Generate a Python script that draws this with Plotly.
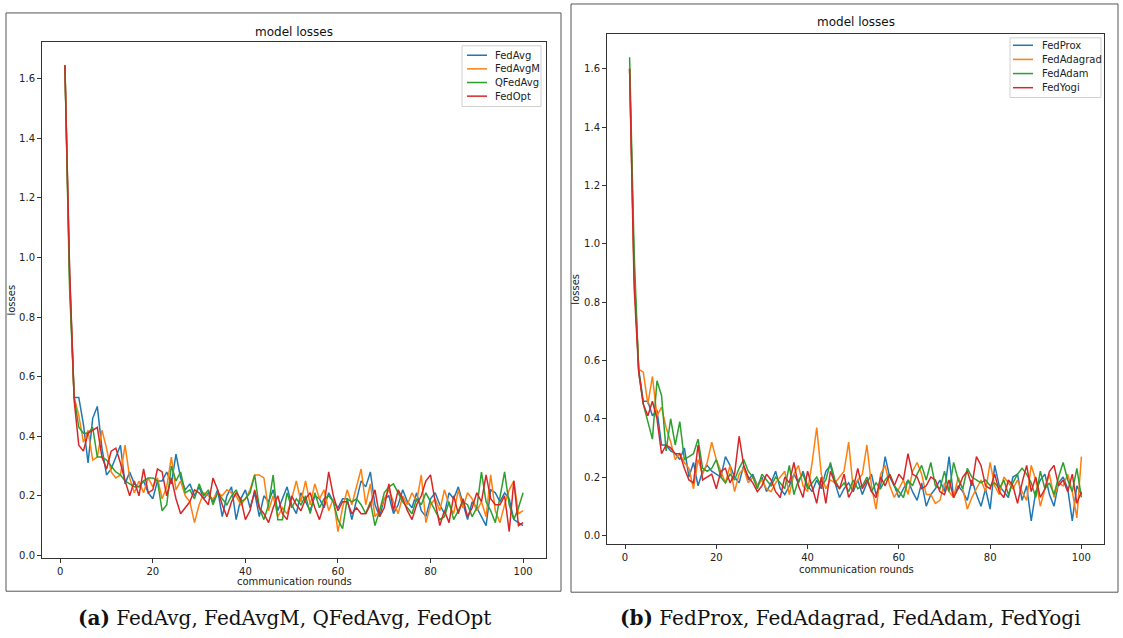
import plotly.graph_objects as go

W, H = 1123, 638

rounds = list(range(1, 101))

# ---- panel (a) ----
fedavg = [1.645, 0.95, 0.53, 0.53, 0.44, 0.31, 0.46, 0.50, 0.36, 0.27,
          0.29, 0.33, 0.37, 0.24, 0.28, 0.24, 0.23, 0.25, 0.21, 0.19,
          0.25, 0.25, 0.28, 0.24, 0.34, 0.26, 0.22, 0.24, 0.20, 0.23,
          0.19, 0.21, 0.18, 0.22, 0.13, 0.20, 0.23, 0.12, 0.19, 0.22,
          0.16, 0.21, 0.13, 0.20, 0.18, 0.22, 0.15, 0.19, 0.23, 0.17,
          0.14, 0.21, 0.18, 0.15, 0.20, 0.19, 0.16, 0.21, 0.18, 0.16,
          0.19, 0.19, 0.12, 0.18, 0.25, 0.23, 0.28, 0.17, 0.13, 0.19,
          0.20, 0.14, 0.17, 0.22, 0.18, 0.16, 0.21, 0.15, 0.13, 0.19,
          0.21, 0.17, 0.14, 0.21, 0.19, 0.23, 0.17, 0.12, 0.18, 0.16,
          0.13, 0.10, 0.22, 0.21, 0.18, 0.21, 0.19, 0.12, 0.11, 0.10]
fedavgm = [1.645, 0.93, 0.53, 0.47, 0.38, 0.42, 0.32, 0.33, 0.42, 0.36,
           0.28, 0.26, 0.27, 0.37, 0.26, 0.21, 0.25, 0.21, 0.26, 0.23,
           0.26, 0.19, 0.23, 0.33, 0.22, 0.25, 0.20, 0.18, 0.11, 0.17,
           0.21, 0.20, 0.19, 0.21, 0.20, 0.22, 0.21, 0.20, 0.17, 0.19,
           0.22, 0.27, 0.27, 0.26, 0.15, 0.20, 0.13, 0.16, 0.14, 0.19,
           0.25, 0.18, 0.25, 0.17, 0.24, 0.19, 0.22, 0.15, 0.19, 0.08,
           0.16, 0.22, 0.17, 0.23, 0.29, 0.17, 0.24, 0.13, 0.15, 0.19,
           0.22, 0.18, 0.14, 0.20, 0.17, 0.21, 0.18, 0.27, 0.11, 0.17,
           0.19, 0.15, 0.22, 0.17, 0.14, 0.22, 0.16, 0.21, 0.19, 0.15,
           0.18, 0.13, 0.27, 0.15, 0.11, 0.17, 0.22, 0.25, 0.14, 0.15]
qfedavg = [1.645, 0.90, 0.53, 0.43, 0.41, 0.41, 0.43, 0.33, 0.33, 0.32,
           0.30, 0.28, 0.27, 0.25, 0.24, 0.23, 0.23, 0.25, 0.26, 0.26,
           0.25, 0.15, 0.17, 0.30, 0.25, 0.28, 0.21, 0.22, 0.19, 0.24,
           0.20, 0.22, 0.17, 0.21, 0.19, 0.17, 0.20, 0.22, 0.18, 0.19,
           0.21, 0.27, 0.16, 0.12, 0.17, 0.27, 0.12, 0.12, 0.21, 0.16,
           0.19, 0.17, 0.20, 0.14, 0.21, 0.16, 0.19, 0.20, 0.18, 0.12,
           0.09, 0.19, 0.18, 0.19, 0.17, 0.14, 0.18, 0.10, 0.15, 0.21,
           0.23, 0.24, 0.21, 0.18, 0.16, 0.14, 0.19, 0.17, 0.21, 0.18,
           0.15, 0.12, 0.13, 0.18, 0.12, 0.15, 0.18, 0.17, 0.13, 0.16,
           0.28, 0.18, 0.15, 0.11, 0.20, 0.28, 0.17, 0.12, 0.16, 0.21]
fedopt = [1.645, 0.97, 0.52, 0.37, 0.35, 0.41, 0.42, 0.43, 0.33, 0.29,
          0.35, 0.36, 0.31, 0.25, 0.20, 0.25, 0.20, 0.29, 0.21, 0.22,
          0.29, 0.28, 0.20, 0.26, 0.19, 0.14, 0.16, 0.18, 0.22, 0.21,
          0.19, 0.17, 0.26, 0.22, 0.17, 0.13, 0.18, 0.21, 0.19, 0.12,
          0.15, 0.22, 0.16, 0.14, 0.11, 0.16, 0.20, 0.14, 0.12, 0.20,
          0.17, 0.15, 0.19, 0.21, 0.16, 0.12, 0.17, 0.28, 0.20, 0.15,
          0.18, 0.18, 0.14, 0.16, 0.14, 0.14, 0.17, 0.22, 0.13, 0.16,
          0.24, 0.15, 0.22, 0.19, 0.15, 0.12, 0.17, 0.20, 0.25, 0.27,
          0.18, 0.10, 0.15, 0.11, 0.20, 0.14, 0.19, 0.13, 0.16, 0.21,
          0.18, 0.27, 0.19, 0.17, 0.17, 0.20, 0.08, 0.25, 0.10, 0.11]

# ---- panel (b) ----
fedprox = [1.60, 0.90, 0.57, 0.46, 0.46, 0.41, 0.43, 0.31, 0.31, 0.29,
           0.28, 0.26, 0.30, 0.20, 0.25, 0.17, 0.22, 0.24, 0.22, 0.21,
           0.20, 0.27, 0.24, 0.20, 0.18, 0.24, 0.19, 0.21, 0.17, 0.20,
           0.15, 0.18, 0.22, 0.16, 0.14, 0.17, 0.21, 0.18, 0.22, 0.17,
           0.15, 0.19, 0.16, 0.22, 0.24, 0.18, 0.13, 0.16, 0.18, 0.15,
           0.19, 0.14, 0.18, 0.21, 0.14, 0.17, 0.27, 0.20, 0.17, 0.13,
           0.16, 0.19, 0.15, 0.12, 0.18, 0.10, 0.14, 0.16, 0.19, 0.15,
           0.27, 0.13, 0.17, 0.15, 0.12, 0.19, 0.14, 0.10, 0.16, 0.09,
           0.24, 0.17, 0.15, 0.13, 0.20, 0.21, 0.12, 0.17, 0.05, 0.15,
           0.19, 0.21, 0.14, 0.10, 0.18, 0.20, 0.16, 0.05, 0.17, 0.14]
fedadagrad = [1.60, 0.90, 0.57, 0.56, 0.45, 0.545, 0.41, 0.44, 0.37, 0.32,
              0.26, 0.28, 0.25, 0.23, 0.16, 0.26, 0.21, 0.25, 0.32, 0.26,
              0.22, 0.18, 0.24, 0.15, 0.21, 0.23, 0.18, 0.20, 0.17, 0.19,
              0.16, 0.15, 0.18, 0.20, 0.22, 0.14, 0.21, 0.24, 0.17, 0.15,
              0.25, 0.37, 0.21, 0.16, 0.19, 0.18, 0.20, 0.22, 0.32, 0.16,
              0.19, 0.21, 0.31, 0.17, 0.09, 0.21, 0.24, 0.17, 0.13, 0.16,
              0.19, 0.14, 0.22, 0.25, 0.21, 0.14, 0.14, 0.11, 0.12, 0.18,
              0.15, 0.13, 0.20, 0.16, 0.09, 0.13, 0.16, 0.19, 0.15, 0.25,
              0.17, 0.14, 0.20, 0.18, 0.16, 0.19, 0.15, 0.12, 0.24, 0.19,
              0.10, 0.16, 0.21, 0.13, 0.18, 0.17, 0.21, 0.15, 0.06, 0.27]
fedadam = [1.64, 0.97, 0.56, 0.45, 0.39, 0.33, 0.53, 0.48, 0.29, 0.40,
           0.31, 0.39, 0.26, 0.27, 0.28, 0.33, 0.23, 0.22, 0.23, 0.26,
           0.20, 0.18, 0.21, 0.19, 0.23, 0.26, 0.22, 0.20, 0.16, 0.21,
           0.19, 0.17, 0.20, 0.18, 0.16, 0.24, 0.14, 0.19, 0.21, 0.16,
           0.18, 0.20, 0.17, 0.19, 0.25, 0.19, 0.16, 0.18, 0.15, 0.19,
           0.16, 0.17, 0.20, 0.15, 0.18, 0.16, 0.19, 0.21, 0.17, 0.15,
           0.13, 0.19, 0.17, 0.21, 0.24, 0.19, 0.25, 0.17, 0.16, 0.22,
           0.15, 0.25, 0.19, 0.16, 0.23, 0.20, 0.19, 0.18, 0.19, 0.17,
           0.18, 0.16, 0.19, 0.14, 0.18, 0.21, 0.23, 0.21, 0.18, 0.13,
           0.22, 0.16, 0.18, 0.14, 0.20, 0.25, 0.19, 0.15, 0.23, 0.13]
fedyogi = [1.60, 0.85, 0.56, 0.45, 0.41, 0.46, 0.40, 0.28, 0.31, 0.30,
           0.28, 0.28, 0.23, 0.19, 0.18, 0.31, 0.19, 0.20, 0.21, 0.16,
           0.22, 0.23, 0.18, 0.21, 0.34, 0.24, 0.20, 0.18, 0.15, 0.17,
           0.21, 0.19, 0.15, 0.13, 0.20, 0.18, 0.25, 0.17, 0.13, 0.22,
           0.16, 0.11, 0.20, 0.11, 0.22, 0.18, 0.16, 0.21, 0.13, 0.16,
           0.23, 0.16, 0.19, 0.15, 0.13, 0.20, 0.17, 0.21, 0.17, 0.21,
           0.19, 0.28, 0.21, 0.20, 0.16, 0.17, 0.20, 0.19, 0.15, 0.14,
           0.19, 0.13, 0.16, 0.20, 0.22, 0.17, 0.27, 0.24, 0.17, 0.16,
           0.21, 0.15, 0.13, 0.19, 0.17, 0.11, 0.18, 0.24, 0.15, 0.20,
           0.13, 0.16, 0.22, 0.24, 0.17, 0.19, 0.15, 0.21, 0.11, 0.15]

panel_a = [("FedAvg", fedavg), ("FedAvgM", fedavgm), ("QFedAvg", qfedavg), ("FedOpt", fedopt)]
panel_b = [("FedProx", fedprox), ("FedAdagrad", fedadagrad), ("FedAdam", fedadam), ("FedYogi", fedyogi)]
colors = ["#1f77b4", "#ff7f0e", "#2ca02c", "#d62728"]

y_ticks = [0.0, 0.2, 0.4, 0.6, 0.8, 1.0, 1.2, 1.4, 1.6]
x_ticks = [0, 20, 40, 60, 80, 100]


def px(x):
    return x / W


def py(y):
    return 1 - y / H


fig = go.Figure()

for i, (name, vals) in enumerate(panel_a):
    fig.add_trace(go.Scatter(x=rounds, y=vals, mode="lines", name=name,
                             line=dict(color=colors[i], width=1.5),
                             xaxis="x", yaxis="y", showlegend=False))
for i, (name, vals) in enumerate(panel_b):
    fig.add_trace(go.Scatter(x=rounds, y=vals, mode="lines", name=name,
                             line=dict(color=colors[i], width=1.5),
                             xaxis="x2", yaxis="y2", showlegend=False))

tick_font = dict(family="DejaVu Sans", size=10, color="#222")
axis_common = dict(showline=True, linecolor="#333", linewidth=1, mirror=True,
                   ticks="outside", ticklen=4, tickcolor="#333", tickwidth=1,
                   showgrid=False, zeroline=False, tickfont=tick_font)

fig.update_layout(
    width=W, height=H,
    margin=dict(l=0, r=0, t=0, b=0),
    paper_bgcolor="white", plot_bgcolor="white",
    font=dict(family="DejaVu Sans", color="#222"),
    showlegend=False,
    xaxis=dict(domain=[px(42), px(546)], range=[-3.95, 104.95], tickvals=x_ticks,
               anchor="y", **axis_common),
    yaxis=dict(domain=[py(561), py(42)], range=[-0.01, 1.724], tickvals=y_ticks,
               tickformat=".1f", anchor="x", **axis_common),
    xaxis2=dict(domain=[px(607), px(1104)], range=[-3.95, 104.95], tickvals=x_ticks,
                anchor="y2", **axis_common),
    yaxis2=dict(domain=[py(547), py(34)], range=[-0.031, 1.72], tickvals=y_ticks,
                tickformat=".1f", anchor="x2", **axis_common),
)

# outer frames around each panel
fig.add_shape(type="rect", xref="paper", yref="paper",
              x0=px(6), x1=px(561), y0=py(594), y1=py(13),
              line=dict(color="#555", width=1), layer="below")
fig.add_shape(type="rect", xref="paper", yref="paper",
              x0=px(571), x1=px(1118), y0=py(595), y1=py(4),
              line=dict(color="#555", width=1), layer="below")

ann = []
label_font = dict(family="DejaVu Sans", size=10, color="#222")
title_font = dict(family="DejaVu Sans", size=12, color="#111")


def add_legend(names, box, handle_x, text_x, rows):
    """Boxed key in the upper-right corner of a panel."""
    x0, y0, x1, y1 = box
    fig.add_shape(type="rect", xref="paper", yref="paper",
                  x0=px(x0), x1=px(x1), y0=py(y1), y1=py(y0),
                  fillcolor="rgba(255,255,255,0.85)",
                  line=dict(color="#d0d0d0", width=1), layer="above")
    for i, name in enumerate(names):
        yy = rows[0] + i * rows[1]
        fig.add_shape(type="line", xref="paper", yref="paper",
                      x0=px(handle_x[0]), x1=px(handle_x[1]), y0=py(yy), y1=py(yy),
                      line=dict(color=colors[i], width=1.5), layer="above")
        ann.append(dict(text=name, x=px(text_x), y=py(yy), font=label_font,
                        xanchor="left"))


add_legend([n for n, _ in panel_a], (462, 46, 541, 107), (467, 487), 493, (55.5, 13.7))
add_legend([n for n, _ in panel_b], (1010, 38, 1101, 98), (1013, 1033), 1040, (45.5, 14.2))

# titles
ann.append(dict(text="model losses", x=px(294), y=py(32), font=title_font))
ann.append(dict(text="model losses", x=px(855.5), y=py(22), font=title_font))
# axis labels
ann.append(dict(text="communication rounds", x=px(294), y=py(584), font=label_font))
ann.append(dict(text="communication rounds", x=px(856), y=py(572), font=label_font))
ann.append(dict(text="losses", x=px(12), y=py(302), font=label_font, textangle=-90))
ann.append(dict(text="losses", x=px(576), y=py(291), font=label_font, textangle=-90))
# captions
cap_font = dict(family="DejaVu Serif", size=20, color="#111")
ann.append(dict(text="<b>(a)</b> FedAvg, FedAvgM, QFedAvg, FedOpt", x=px(284), y=py(621), font=cap_font))
ann.append(dict(text="<b>(b)</b> FedProx, FedAdagrad, FedAdam, FedYogi", x=px(850), y=py(621), font=cap_font))

for a in ann:
    a.setdefault("xanchor", "center")
    a.update(xref="paper", yref="paper", showarrow=False, yanchor="middle")
    fig.add_annotation(**a)

fig.write_html("out.html")
